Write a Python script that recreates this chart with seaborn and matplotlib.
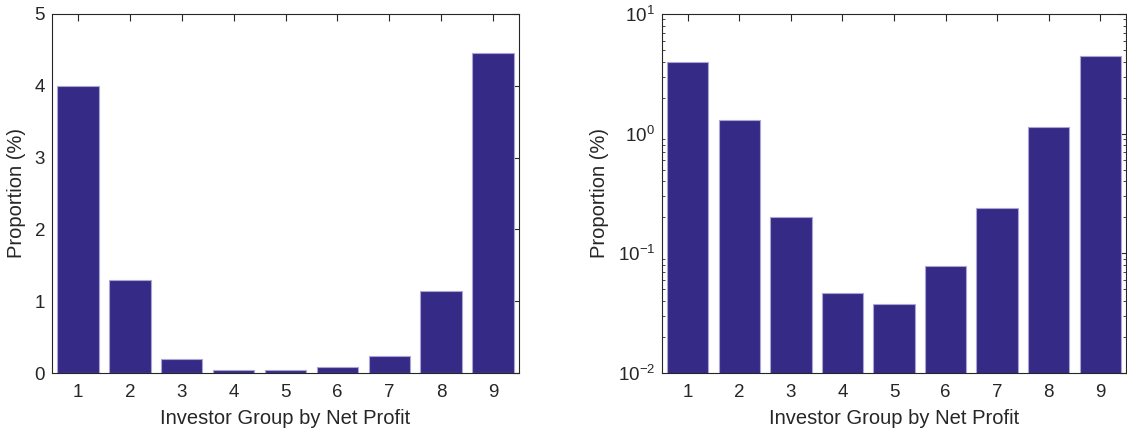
import matplotlib
matplotlib.use("Agg")
import matplotlib.pyplot as plt
import matplotlib.ticker as mticker
import seaborn as sns
import pandas as pd

groups = ["1", "2", "3", "4", "5", "6", "7", "8", "9"]
proportion = [4.00, 1.29, 0.20, 0.047, 0.038, 0.078, 0.24, 1.14, 4.45]

sns.set_theme(style="white")
plt.rcParams["font.family"] = ["Liberation Sans", "DejaVu Sans"]
plt.rcParams["mathtext.fontset"] = "custom"
plt.rcParams["mathtext.rm"] = "Liberation Sans"
plt.rcParams["mathtext.it"] = "Liberation Sans"
plt.rcParams["axes.unicode_minus"] = False

df = pd.DataFrame({"group": groups, "prop": proportion})

face = "#352B87"
edge = "#A9A6D6"
axcol = "#262626"

fig = plt.figure(figsize=(11.27, 4.36), dpi=100)
W, H = 1127, 436
ax1 = fig.add_axes([52 / W, 1 - 373 / H, 467 / W, (373 - 14) / H])
ax2 = fig.add_axes([662 / W, 1 - 373 / H, 464 / W, (373 - 14) / H])

for ax, log in [(ax1, False), (ax2, True)]:
    if log:
        ax.set_yscale("log")
    sns.barplot(data=df, x="group", y="prop", ax=ax, color=face,
                saturation=1, width=0.8, edgecolor=edge, linewidth=0.8,
                errorbar=None)
    ax.set_xlim(-0.5, 8.5)
    if log:
        ax.set_ylim(1e-2, 1e1)
        ax.yaxis.set_major_locator(mticker.LogLocator(base=10, numticks=10))
        ax.yaxis.set_minor_locator(mticker.LogLocator(base=10, subs=range(2, 10), numticks=20))
        ax.yaxis.set_minor_formatter(mticker.NullFormatter())
    else:
        ax.set_ylim(0, 5)
        ax.set_yticks(range(0, 6))
    ax.set_xlabel("Investor Group by Net Profit", fontsize=14.5, color=axcol, labelpad=6)
    ax.set_ylabel("Proportion (%)", fontsize=14.5, color=axcol, labelpad=6)
    ax.tick_params(axis="both", which="major", direction="in", length=5, width=0.8,
                   top=True, right=True, labelsize=13.5, colors=axcol, pad=8)
    ax.tick_params(axis="y", which="major", pad=5)
    ax.tick_params(axis="y", which="minor", direction="in", length=2.5, width=0.6,
                   left=True, right=True, colors=axcol)
    ax.tick_params(axis="x", which="minor", bottom=False, top=False)
    for s in ax.spines.values():
        s.set_visible(True)
        s.set_color(axcol)
        s.set_linewidth(0.8)

fig.savefig("out.png", dpi=100)
